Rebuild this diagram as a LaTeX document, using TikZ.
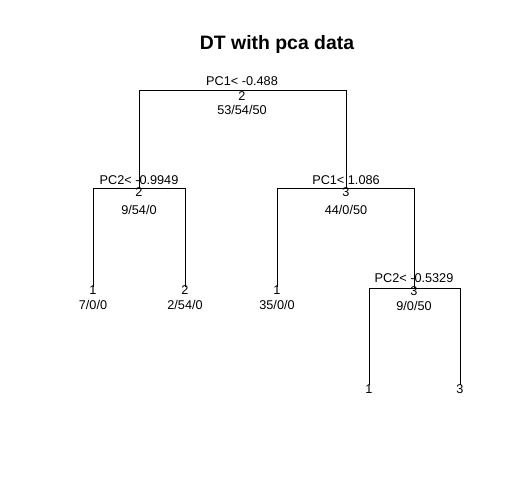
\documentclass[tikz,border=0pt]{standalone}
\usepackage{fontspec}
\setmainfont{Liberation Sans}
\usetikzlibrary{positioning}

\begin{document}
\begin{tikzpicture}[x=1pt,y=-1pt,
		lbl/.style={inner sep=0pt, text height=9pt, text depth=0pt, font=\fontsize{12.7}{15}\selectfont},
		branch/.style={draw=black, line width=0.9pt}]
		\useasboundingbox (0,0) rectangle (516,496);

		\node[font=\fontsize{19.4}{23}\selectfont\bfseries] (title) at (277,44) {DT with pca data};

		% split points
		\coordinate (root) at (242,90);
		\coordinate (n2) at (139,188);
		\coordinate (n3) at (346,188);
		\coordinate (n4) at (93,287);
		\coordinate (n5) at (185,287);
		\coordinate (n6) at (277,287);
		\coordinate (n7) at (414,288);
		\coordinate (n14) at (369,385);
		\coordinate (n15) at (460,385);

		\draw[branch] (n2) -- (n2 |- root) -- (n3 |- root) -- (n3);
		\draw[branch] (n4) -- (n4 |- n2) -- (n5 |- n2) -- (n5);
		\draw[branch] (n6) -- (n6 |- n3) -- (n7 |- n3) -- (n7);
		\draw[branch] (n14) -- (n14 |- n7) -- (n15 |- n7) -- (n15);

		% labels
		\node[lbl] (rootsplit) at (242,81) {PC1< -0.488};
		\node[lbl] (rootclass) at (242,95.5) {2};
		\node[lbl] (rootn) at (242,110) {53/54/50};

		\node[lbl] (n2split) at (139,180) {PC2< -0.9949};
		\node[lbl] (n2class) at (139,192) {2};
		\node[lbl] (n2n) at (139,210) {9/54/0};

		\node[lbl] (n3split) at (346,180) {PC1< 1.086};
		\node[lbl] (n3class) at (346,192) {3};
		\node[lbl] (n3n) at (346,210) {44/0/50};

		\node[lbl] (n4class) at (93,290) {1};
		\node[lbl] (n4n) at (93,305) {7/0/0};
		\node[lbl] (n5class) at (185,290) {2};
		\node[lbl] (n5n) at (185,305) {2/54/0};
		\node[lbl] (n6class) at (277,290) {1};
		\node[lbl] (n6n) at (277,305) {35/0/0};

		\node[lbl] (n7split) at (414,278) {PC2< -0.5329};
		\node[lbl] (n7class) at (414,291) {3};
		\node[lbl] (n7n) at (414,306) {9/0/50};

		\node[lbl] (n14class) at (369,389) {1};
		\node[lbl] (n15class) at (460,389) {3};
	\end{tikzpicture}
\end{document}
